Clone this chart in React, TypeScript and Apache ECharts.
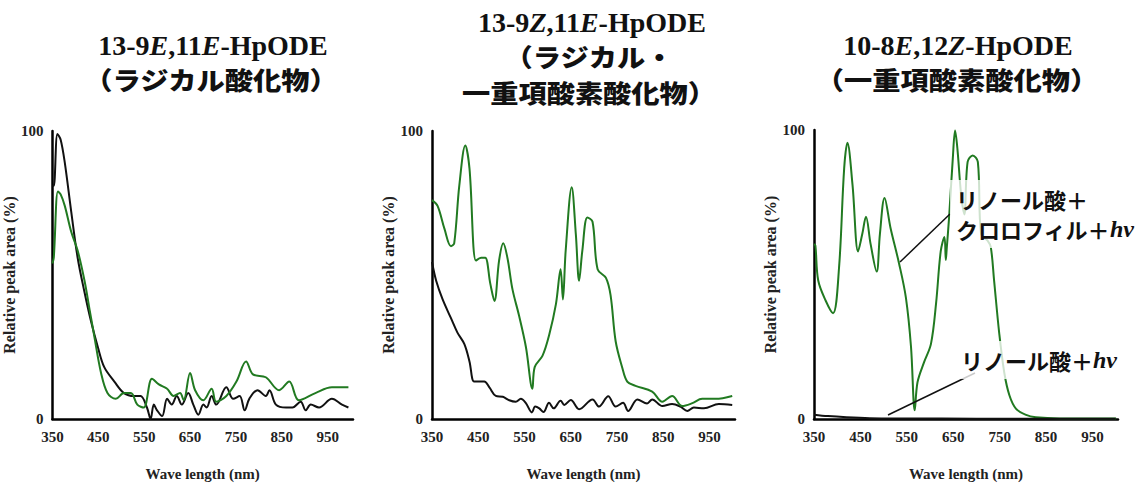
import React, { useEffect, useRef } from "react";
import * as echarts from "echarts";

// ---- Data (wavelength nm, relative peak area %) ----
const xTickLabels = [350, 450, 550, 650, 750, 850, 950];

// Panel 1: 13-9E,11E-HpODE (radical oxidation product)
const p1Black = [
  [350, 81], [353, 81], [361, 99], [368, 97], [377, 89], [391, 72], [405, 56], [420, 44], [434, 34],
  [449, 25], [463, 18], [485, 13], [506, 9], [528, 8], [542, 8], [556, 4], [564, 0], [571, 5],
  [578, 3], [589, 1], [600, 7], [610, 5], [621, 8], [632, 5], [646, 9], [657, 5], [668, 1.5],
  [679, 5], [686, 4], [697, 8], [707, 5], [729, 11], [744, 7], [758, 8], [769, 3], [779, 7],
  [797, 10], [815, 8], [823, 10], [837, 5], [859, 4], [873, 4], [891, 6], [902, 3], [913, 5],
  [931, 4], [959, 7], [981, 5], [995, 4],
];
const p1Green = [
  [350, 54], [353, 56], [362, 79], [368, 78], [377, 74], [391, 65], [405, 58.5], [420, 48],
  [431, 38], [441, 29], [456, 16], [470, 9], [488, 7], [506, 9], [521, 9], [535, 5], [549, 4],
  [567, 14], [582, 12], [600, 10.5], [614, 8], [628, 9], [636, 6.5], [650, 16], [661, 10],
  [679, 6.5], [697, 10.5], [707, 6], [729, 8], [751, 13], [772, 20], [787, 15.5], [815, 14.5],
  [844, 10], [866, 13], [887, 6.5], [923, 9], [959, 11], [995, 11],
];

// Panel 2: 13-9Z,11E-HpODE (radical / singlet oxygen oxidation product)
const p2Black = [
  [350, 54.5], [359, 48], [373, 41.5], [391, 35], [405, 30], [420, 26], [431, 20], [441, 13],
  [452, 13], [463, 13], [474, 11], [488, 8], [503, 7.7], [517, 6.5], [531, 6], [542, 7],
  [553, 5.5], [566, 2.3], [573, 4.3], [582, 3.7], [591, 2.4], [603, 5.6], [613, 3.7], [628, 6.3],
  [636, 4.9], [650, 6.6], [668, 3.4], [697, 6.8], [711, 4.3], [731, 7.9], [747, 4.3], [763, 5.6],
  [774, 2.8], [794, 6.8], [815, 5.4], [826, 6.8], [848, 4.5], [869, 5.2], [887, 4.3], [902, 2.8],
  [916, 4], [938, 3.7], [970, 5.2], [999, 4.9],
];
const p2Green = [
  [350, 76], [362, 74], [377, 66], [391, 60], [398, 61], [409, 81], [422, 95], [431, 87],
  [445, 55], [456, 56], [465, 56], [476, 47], [485, 41], [495, 55], [504, 61], [513, 56],
  [524, 45], [538, 36], [553, 25], [567, 10.5], [572, 18], [589, 22], [603, 29], [618, 40],
  [628, 52], [633, 41.5], [639, 58.5], [652, 80.5], [661, 64], [668, 48], [675, 58.5], [686, 70],
  [697, 68.5], [708, 52], [726, 49], [736, 43], [747, 27], [761, 18], [772, 13], [790, 11.5],
  [826, 9.5], [848, 6], [869, 8], [891, 4.5], [913, 5.5], [934, 7], [963, 7], [999, 8],
];

// Panel 3: 10-8E,12Z-HpODE (singlet oxygen oxidation product)
const p3Black = [
  [350, 1.5], [380, 1], [420, 0.6], [470, 0.3], [550, 0.2], [700, 0.1], [1000, 0.1],
];
const p3Green = [
  [350, 60.5], [353, 60], [359, 48], [375, 41], [391, 36.6], [404, 52.5], [415, 86.7], [422, 95.6],
  [433, 81], [445, 58], [454, 64], [462, 70], [472, 60.5], [485, 51], [492, 64], [502, 76.5],
  [515, 66], [533, 54], [548, 42], [559, 25], [567, 3], [573, 12.7], [587, 19.6], [602, 26],
  [613, 40], [623, 58], [631, 63], [634, 55], [636, 59], [641, 69.6], [649, 90], [654, 99.8],
  [659, 93.5], [667, 77.6], [674, 70.8], [681, 89], [692, 91.2], [703, 89], [710, 64],
  [724, 61.7], [731, 59.4], [738, 48], [749, 29.8], [760, 16], [771, 8.2], [785, 3.6],
  [807, 1.4], [828, 0.6], [879, 0.2], [1001, 0.2],
];

const panelBlack = [p1Black, p2Black, p3Black];
const panelGreen = [p1Green, p2Green, p3Green];

const GREEN = "#217a21";
const SERIF = "'Liberation Serif', 'Times New Roman', serif";
const JP = "'Noto Sans CJK JP', sans-serif";

const grids = [
  { left: 49, top: 131, width: 304, height: 295 },
  { left: 432, top: 131, width: 303, height: 295 },
  { left: 814, top: 130, width: 304, height: 294 },
];

export default function App() {
  const ref = useRef<HTMLDivElement>(null);

  useEffect(() => {
    if (!ref.current) return;
    const chart = echarts.init(ref.current, undefined, { renderer: "svg" });

    const labelStyle = { fontFamily: SERIF, fontWeight: "bold" as const, fontSize: 15, color: "#222" };
    const nameStyle = { fontFamily: SERIF, fontWeight: "bold" as const, fontSize: 15, color: "#222" };

    const xAxes = grids.map((_, i) => ({
      type: "value",
      gridIndex: i,
      min: 350,
      max: 1005,
      interval: 50,
      axisLine: { show: true, lineStyle: { color: "#000", width: 2.5 } },
      axisTick: { show: false },
      splitLine: { show: false },
      axisLabel: {
        ...labelStyle,
        margin: 10,
        formatter: (v: number) => (xTickLabels.includes(v) ? String(v) : ""),
      },
      name: "Wave length (nm)",
      nameLocation: "middle",
      nameGap: 47,
      nameTextStyle: nameStyle,
    }));

    const yAxes = grids.map((_, i) => ({
      type: "value",
      gridIndex: i,
      min: 0,
      max: 100,
      interval: 100,
      axisLine: { show: true, lineStyle: { color: "#000", width: 2.5 } },
      axisTick: { show: false },
      splitLine: { show: false },
      axisLabel: { ...labelStyle, margin: 9 },
      name: "Relative peak area (%)",
      nameLocation: "middle",
      nameGap: 31,
      nameRotate: 90,
      nameTextStyle: { ...nameStyle, fontSize: 16 },
    }));

    const series: any[] = [];
    for (let i = 0; i < 3; i++) {
      series.push({
        type: "line",
        xAxisIndex: i,
        yAxisIndex: i,
        data: panelGreen[i],
        showSymbol: false,
        smooth: 0.35,
        lineStyle: { color: GREEN, width: 2 },
        itemStyle: { color: GREEN },
        z: 2,
      });
      series.push({
        type: "line",
        xAxisIndex: i,
        yAxisIndex: i,
        data: panelBlack[i],
        showSymbol: false,
        smooth: 0.35,
        lineStyle: { color: "#111", width: 2 },
        itemStyle: { color: "#111" },
        z: i === 2 ? 3 : 1,
      });
    }

    const titleRich = {
      n: { fontFamily: SERIF, fontWeight: "bold", fontSize: 28, fill: "#111" },
      i: { fontFamily: SERIF, fontWeight: "bold", fontStyle: "italic", fontSize: 28, fill: "#111" },
    };
    const latinTitle = (x: number, y: number, text: string) => ({
      type: "text",
      x,
      y,
      style: {
        text,
        rich: titleRich,
        font: `bold 28px ${SERIF}`,
        fill: "#111",
        align: "center",
        verticalAlign: "middle",
        textAlign: "center",
        textVerticalAlign: "middle",
      },
    });
    const jpTitle = (x: number, y: number, text: string) => ({
      type: "text",
      x,
      y,
      scaleX: 1.13,
      style: {
        text,
        font: `900 25px ${JP}`,
        fill: "#111",
        lineHeight: 36,
        align: "center",
        verticalAlign: "middle",
        textAlign: "center",
        textVerticalAlign: "middle",
      },
    });

    const annRich = {
      j: { fontFamily: JP, fontWeight: "bold", fontSize: 22, fill: "#111" },
      h: { fontFamily: SERIF, fontWeight: "bold", fontStyle: "italic", fontSize: 24, fill: "#111" },
    };

    const graphic: any[] = [
      latinTitle(213, 45, "{n|13-9}{i|E}{n|,11}{i|E}{n|-HpODE}"),
      jpTitle(211, 79, "（ラジカル酸化物）"),
      latinTitle(592, 22, "{n|13-9}{i|Z}{n|,11}{i|E}{n|-HpODE}"),
      jpTitle(589, 74, "（ラジカル・\n一重項酸素酸化物）"),
      latinTitle(958, 45, "{n|10-8}{i|E}{n|,12}{i|Z}{n|-HpODE}"),
      jpTitle(957, 79, "（一重項酸素酸化物）"),
      {
        type: "line",
        shape: { x1: 900, y1: 262, x2: 950, y2: 214 },
        style: { stroke: "#111", lineWidth: 1.5 },
        z: 10,
      },
      {
        type: "line",
        shape: { x1: 888, y1: 415, x2: 975, y2: 373 },
        style: { stroke: "#111", lineWidth: 1.5 },
        z: 10,
      },
      {
        type: "text",
        x: 950,
        y: 180,
        z: 10,
        style: {
          text: "{j|リノール酸＋}\n{j|クロロフィル＋}{h|hν}",
          rich: annRich,
          lineHeight: 30,
          font: `bold 22px ${JP}`,
          fill: "#111",
          backgroundColor: "rgba(255,255,255,0.78)",
          padding: [4, 6, 4, 6],
        },
      },
      {
        type: "text",
        x: 955,
        y: 341,
        z: 10,
        style: {
          text: "{j|リノール酸＋}{h|hν}",
          rich: annRich,
          lineHeight: 30,
          font: `bold 22px ${JP}`,
          fill: "#111",
          backgroundColor: "rgba(255,255,255,0.78)",
          padding: [4, 6, 4, 6],
        },
      },
    ];

    chart.setOption({
      animation: false,
      backgroundColor: "#fff",
      grid: grids.map((g) => ({ ...g, containLabel: false })),
      xAxis: xAxes,
      yAxis: yAxes,
      series,
      graphic,
    } as any);

    return () => chart.dispose();
  }, []);

  return (
    <div
      ref={ref}
      style={{ position: "fixed", left: 0, top: 0, width: 1143, height: 486, background: "#fff" }}
    />
  );
}
